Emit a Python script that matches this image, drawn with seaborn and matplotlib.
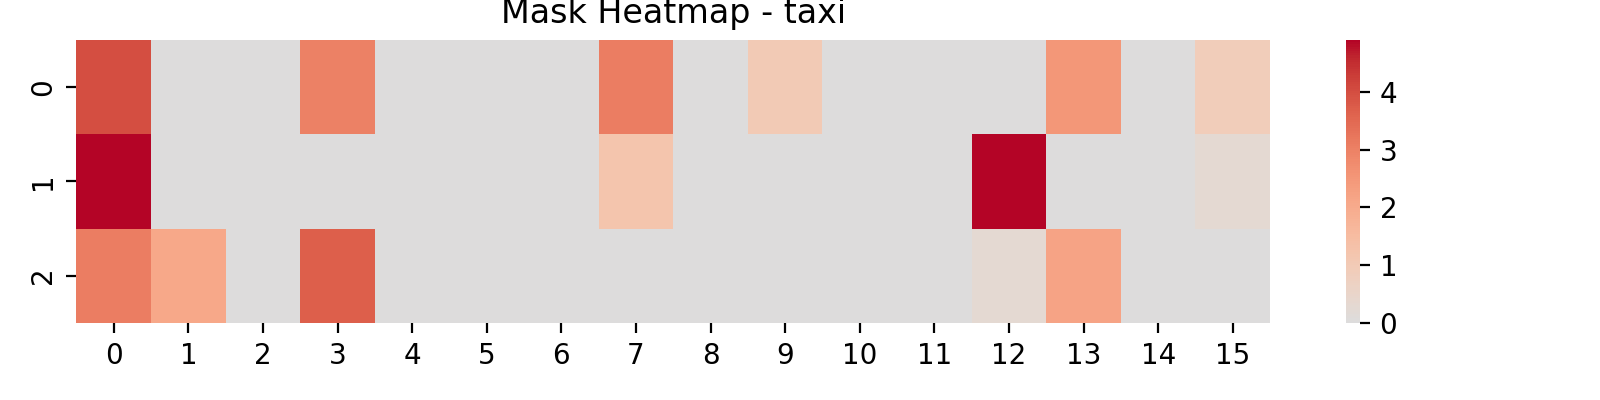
import matplotlib
matplotlib.use("Agg")
import matplotlib.pyplot as plt
import numpy as np
import seaborn as sns

# mask values per row (columns 0..15)
row0 = [4.0, 0, 0, 3.0, 0, 0, 0, 3.1, 0, 1.0, 0, 0, 0, 2.5, 0, 0.9]
row1 = [4.9, 0, 0, 0, 0, 0, 0, 1.2, 0, 0, 0, 0, 4.9, 0, 0, 0.3]
row2 = [3.1, 2.1, 0, 3.7, 0, 0, 0, 0, 0, 0, 0, 0, 0.3, 2.2, 0, 0]

data = np.array([row0, row1, row2])

fig = plt.figure(figsize=(8, 2), dpi=200)
# main heatmap axes and colorbar axes (figure fractions)
ax = fig.add_axes([0.0478, 0.193, 0.746, 0.707])
cax = fig.add_axes([0.8413, 0.193, 0.00875, 0.707])

sns.heatmap(data, cmap='coolwarm', center=0, ax=ax, cbar_ax=cax)
ax.set_title('Mask Heatmap - taxi')
plt.savefig('out.png', dpi=200)
